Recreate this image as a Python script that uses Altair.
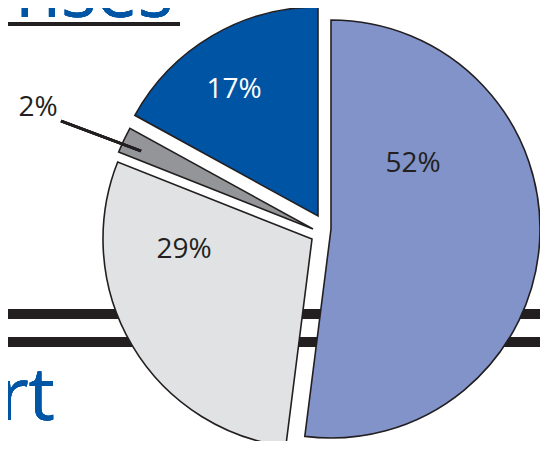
import altair as alt
import pandas as pd

# --- data ---
labels = ["52%", "29%", "2%", "17%"]
values = [52, 29, 2, 17]
order = [0, 1, 2, 3]
slice_colors = ["#8193c8", "#e1e2e4", "#949598", "#0054a4"]
label_colors = ["#231f20", "#231f20", "#231f20", "#ffffff"]

df = pd.DataFrame({"label": labels, "value": values, "order": order})

# layout (view pixel coordinates)
W, H = 532, 433
R = 209
apex = {"52%": (323, 221), "29%": (304, 231), "2%": (305, 221), "17%": (310, 208)}
label_pos = {"52%": (405, 156), "29%": (176, 242), "2%": (30, 100), "17%": (226, 82)}
BLUE = "#0055a5"
DARK = "#231f20"

base = alt.Chart(df).transform_window(
    v1="sum(value)", sort=[alt.SortField("order")], frame=[None, 0]
).transform_calculate(v0="datum.v1 - datum.value")

layers = []

# double horizontal rules behind the pie
for yy in (306, 334):
    layers.append(
        alt.Chart(df).mark_rule(color=DARK, strokeWidth=10).encode(
            x=alt.value(-10), x2=alt.value(W + 10), y=alt.value(yy)
        )
    )

# underline of the (cropped) heading
layers.append(
    alt.Chart(df).mark_rule(color=DARK, strokeWidth=4).encode(
        x=alt.value(-10), x2=alt.value(172), y=alt.value(16)
    )
)

# cropped heading texts
layers.append(
    alt.Chart(df).mark_text(
        text="nses", font="Open Sans", fontSize=74, color=BLUE,
        align="right", baseline="alphabetic"
    ).encode(x=alt.value(165), y=alt.value(9))
)
layers.append(
    alt.Chart(df).mark_text(
        text="rt", font="Open Sans", fontSize=74, color=BLUE,
        align="right", baseline="alphabetic"
    ).encode(x=alt.value(47), y=alt.value(412))
)

# exploded pie slices
for lab in labels:
    cx, cy = apex[lab]
    layers.append(
        base.transform_filter(alt.datum.label == lab).mark_arc(
            outerRadius=R, stroke=DARK, strokeWidth=1.6
        ).encode(
            theta=alt.Theta("v0:Q", scale=alt.Scale(domain=[0, 100])),
            theta2="v1:Q",
            color=alt.Color(
                "label:N",
                scale=alt.Scale(domain=labels, range=slice_colors),
                legend=None,
            ),
            x=alt.value(cx),
            y=alt.value(cy),
        )
    )

# leader line for the 2% label
layers.append(
    alt.Chart(df).mark_rule(color=DARK, strokeWidth=2.5).encode(
        x=alt.value(53), y=alt.value(113), x2=alt.value(133), y2=alt.value(143)
    )
)

# slice labels
for lab, lc in zip(labels, label_colors):
    lx, ly = label_pos[lab]
    layers.append(
        alt.Chart(df).transform_filter(alt.datum.label == lab).mark_text(
            font="Open Sans", fontSize=28, color=lc, align="center", baseline="middle"
        ).encode(text="label:N", x=alt.value(lx), y=alt.value(ly))
    )

chart = alt.layer(*layers).properties(
    width=W, height=H, padding=0, autosize=alt.AutoSizeParams(type="none")
).configure_view(stroke=None)

chart.save("out.html", embed_options={"renderer": "svg", "actions": False})
